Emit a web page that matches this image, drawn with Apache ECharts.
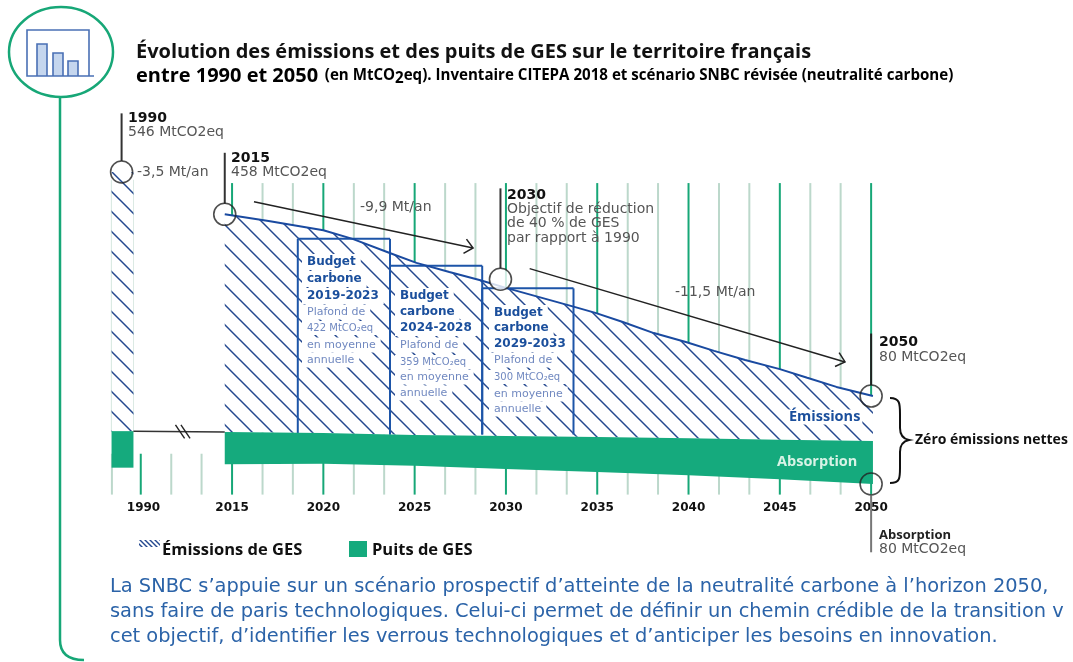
<!DOCTYPE html>
<html><head><meta charset="utf-8">
<style>html,body{margin:0;padding:0;background:#fff;overflow:hidden}#c{width:1073px;height:662px}</style>
<script src="https://cdn.jsdelivr.net/npm/echarts@6/dist/echarts.min.js"></script>
</head><body><div id="c"></div>
<script>
// Axis positions: years after the break are real; 1990 sits at a shifted spot left of the axis break.
const axisLabelYears = [2010.15, 2015, 2020, 2025, 2030, 2035, 2040, 2045, 2050];
const axisLabelTexts = ['1990', '2015', '2020', '2025', '2030', '2035', '2040', '2045', '2050'];
const majorTicks = [2015, 2020, 2025, 2030, 2035, 2040, 2045, 2050];
const minorTicks = [2016.67, 2018.33, 2021.67, 2023.33, 2026.67, 2028.33, 2031.67, 2033.33, 2036.67, 2038.33, 2041.67, 2043.33, 2046.67, 2048.33];
const leftMajorTicks = [2010];
const leftMinorTicks = [2008.42, 2011.67, 2013.33];

const emissionYears = [2014.6, 2017, 2020, 2021.6, 2023.6, 2025.1, 2026.9, 2028.6, 2030, 2033.7, 2034.9, 2036.4, 2038.1, 2039.9, 2041.4, 2043.1, 2045, 2046.5, 2048.1, 2050.1];
const emissionValues = [458, 444, 425, 407, 378, 357, 338, 321, 305, 266, 253, 234, 211, 192, 174, 155, 136, 118, 99, 80];
const sinkYears = [2014.6, 2020, 2025, 2030, 2035, 2040, 2045, 2050.1];
const sinkTop = [5, 3, -1, -3, -5, -8, -11, -13.5];
const sinkBottom = [-62, -61, -65, -72, -78, -85, -93, -103];
const stubYears = [2008.4, 2009.6];
const stubEmission = 546;
const stubSinkTop = 7;
const stubSinkBottom = -69;
const budgetStart = [2018.6, 2023.65, 2028.7];
const budgetEnd = [2023.65, 2028.7, 2033.7];
const budgetTop = [407, 351, 304];
const breakLine = [[2009.6, 7], [2014.6, 5]];
const arrowStart = [[2016.2, 484], [2031.3, 345]];
const arrowEnd = [[2028.2, 388], [2048.57, 151]];
const markers = [[2008.95, 546, false], [2014.6, 458, false], [2029.7, 323, true], [2050, 80, false], [2050, -103, false]];
const leaders = [[2008.95, 668, 569, '#333'], [2014.6, 586, 480, '#333'], [2029.7, 512, 345, '#333'], [2050, 210, 103, '#222'], [2050, -127, -245, '#777']];

const HATCH = '#24488f', BLUE = '#1d55a8', GREEN = '#15aa7d', GREEN2 = '#17a777', PALE = '#bcd8cb';
function hatch(size, lw) {
  const c = document.createElement('canvas'); c.width = c.height = size;
  const g = c.getContext('2d'); g.strokeStyle = HATCH; g.lineWidth = lw;
  [[-size, 0], [0, 0], [size, 0]].forEach(([dx]) => { g.beginPath(); g.moveTo(dx - 2, -2); g.lineTo(dx + size + 2, size + 2); g.stroke(); });
  return c;
}
const hatchFill = { image: hatch(20, 1.5), repeat: 'repeat' };

function custom(z, build) {
  return { type: 'custom', coordinateSystem: 'cartesian2d', silent: true, clip: false, z, data: [[2030, 0]],
    renderItem: (p, api) => ({ type: 'group', children: build(api) }) };
}
const zip = (xs, ys) => xs.map((x, i) => [x, ys[i]]);
const poly = (api, pts, style) => ({ type: 'polygon', shape: { points: pts.map(a => api.coord(a)) }, style });
const seg = (api, a, b, stroke, lineWidth) => { const p = api.coord(a), q = api.coord(b);
  return { type: 'line', shape: { x1: p[0], y1: p[1], x2: q[0], y2: q[1] }, style: { stroke, lineWidth } }; };

const series = [
  custom(1, api => [
    ...majorTicks.map(x => seg(api, [x, 523], [x, 0], GREEN2, 2)),
    ...minorTicks.map(x => seg(api, [x, 523], [x, 0], PALE, 2)),
    ...majorTicks.concat(leftMajorTicks).map(x => seg(api, [x, -40], [x, -125], GREEN2, 2)),
    ...minorTicks.concat(leftMinorTicks).map(x => seg(api, [x, -40], [x, -125], PALE, 2)),
    seg(api, [2008.42, 530], [2008.42, 5], PALE, 2),
    seg(api, [stubYears[1], 530], [stubYears[1], 5], PALE, 1)
  ]),
  custom(2, api => {
    const top = zip(emissionYears, emissionValues);
    const base = zip(sinkYears, sinkTop).reverse();
    const stub = [[stubYears[0], stubEmission], [stubYears[1], stubEmission], [stubYears[1], stubSinkTop], [stubYears[0], stubSinkTop]];
    return [
      poly(api, top.concat(base), { fill: '#fff' }),
      poly(api, top.concat(base), { fill: hatchFill }),
      poly(api, stub, { fill: '#fff' }),
      poly(api, stub, { fill: hatchFill })
    ];
  }),
  custom(3, api => budgetTop.flatMap((t, i) => [
    seg(api, [budgetStart[i], 0], [budgetStart[i], t], BLUE, 2),
    seg(api, [budgetStart[i], t], [budgetEnd[i], t], BLUE, 2),
    seg(api, [budgetEnd[i], t], [budgetEnd[i], 0], BLUE, 2)
  ])),
  { type: 'line', z: 4, silent: true, showSymbol: false, smooth: false, clip: false,
    data: zip(emissionYears, emissionValues), lineStyle: { color: '#1a4aa0', width: 2 } },
  custom(5, api => [
    poly(api, zip(sinkYears, sinkTop).concat(zip(sinkYears, sinkBottom).reverse()), { fill: GREEN }),
    poly(api, [[stubYears[0], stubSinkTop], [stubYears[1], stubSinkTop], [stubYears[1], stubSinkBottom], [stubYears[0], stubSinkBottom]], { fill: GREEN })
  ]),
  custom(6, api => {
    const out = [seg(api, breakLine[0], breakLine[1], '#333', 1.5)];
    [[2011.9, 2012.4], [2012.2, 2012.7]].forEach(([a, b]) => out.push(seg(api, [a, 20], [b, -8], '#222', 1.4)));
    leaders.forEach(l => out.push(seg(api, [l[0], l[1]], [l[0], l[2]], l[3], 2)));
    arrowStart.forEach((s, i) => {
      const p = api.coord(s), q = api.coord(arrowEnd[i]);
      const ang = Math.atan2(q[1] - p[1], q[0] - p[0]), L = 11, w = 0.72;
      out.push({ type: 'line', shape: { x1: p[0], y1: p[1], x2: q[0], y2: q[1] }, style: { stroke: '#222', lineWidth: 1.5 } });
      out.push({ type: 'polyline', shape: { points: [
        [q[0] - L * Math.cos(ang - w), q[1] - L * Math.sin(ang - w)], q,
        [q[0] - L * Math.cos(ang + w), q[1] - L * Math.sin(ang + w)]] }, style: { stroke: '#222', lineWidth: 1.5, fill: 'none' } });
    });
    return out;
  }),
  { type: 'scatter', z: 7, silent: true, symbol: 'circle', symbolSize: 22, clip: false,
    data: markers.map(m => ({ value: [m[0], m[1]], itemStyle: { color: m[2] ? '#fff' : 'rgba(255,255,255,0)', borderColor: '#222', borderWidth: 1.6 } })) },
  custom(8, () => [
    { type: 'path', shape: { pathData: 'M890 398 C900 398 900 404 900 414 L900 428 C900 436 904 439 909 440 C904 441 900 444 900 452 L900 468 C900 478 900 483 890 483' }, style: { fill: 'none', stroke: '#111', lineWidth: 2 } },
    { type: 'path', shape: { pathData: 'M60 97 L60 640 Q60 660 84 660' }, style: { fill: 'none', stroke: GREEN2, lineWidth: 2.5 } },
    { type: 'rect', shape: { x: 37, y: 44, width: 10, height: 32 }, style: { fill: '#c5d6ee' } },
    { type: 'rect', shape: { x: 53, y: 53, width: 10, height: 23 }, style: { fill: '#c5d6ee' } },
    { type: 'rect', shape: { x: 68, y: 61, width: 10, height: 15 }, style: { fill: '#c5d6ee' } },
    { type: 'path', shape: { pathData: 'M94 76 L27 76 L27 30 L89 30 L89 76 M37 76 L37 44 L47 44 L47 76 M53 76 L53 53 L63 53 L63 76 M68 76 L68 61 L78 61 L78 76' }, style: { fill: 'none', stroke: '#4a70b5', lineWidth: 1.6 } },
    { type: 'ellipse', shape: { cx: 61, cy: 52, rx: 52, ry: 45 }, style: { fill: 'none', stroke: GREEN2, lineWidth: 2.5 } }
  ])
];

const OS = '"Open Sans", sans-serif', DJ = '"DejaVu Sans", sans-serif';
function t(x, y, text, size, color, weight, extra, fam) {
  return { type: 'text', z: 20, x, y, style: Object.assign({ text, font: `${weight || 400} ${size}px ${fam || DJ}`, fill: color, verticalAlign: 'middle', align: 'left' }, extra || {}) };
}
const kn = { backgroundColor: '#fff', padding: [0, 2] };
const kb = { backgroundColor: '#fff', padding: [2, 5] };
const DK = '#1b4f9c', LT = '#7189c0';
const blocks = [
  [302, [262, 279, 296], ['Budget', 'carbone', '2019-2023'], [312, 328, 345, 360], ['Plafond de', '422 MtCO₂eq', 'en moyenne', 'annuelle']],
  [395, [296, 312, 328], ['Budget', 'carbone', '2024-2028'], [345, 362, 377, 393], ['Plafond de', '359 MtCO₂eq', 'en moyenne', 'annuelle']],
  [489, [313, 328, 344], ['Budget', 'carbone', '2029-2033'], [360, 377, 394, 409], ['Plafond de', '300 MtCO₂eq', 'en moyenne', 'annuelle']]
];
const gfx = [];
blocks.forEach(b => {
  [...b[4]].reverse().forEach((s, j) => { const i = b[4].length - 1 - j; gfx.push(t(b[0], b[3][i], s, i === 1 ? 10 : 11, LT, 400, kb)); });
  [...b[2]].reverse().forEach((s, j) => { const i = b[2].length - 1 - j; gfx.push(t(b[0], b[1][i], s, 12, DK, 700, kb)); });
});
gfx.push(
  t(136, 52, 'Évolution des émissions et des puits de GES sur le territoire français', 20, '#111', 700, null, OS),
  { type: 'text', z: 20, x: 136, y: 76, style: { verticalAlign: 'middle', text: '{a|entre 1990 et 2050}  {b|(en MtCO}{s|2}{b|eq). Inventaire CITEPA 2018 et scénario SNBC révisée (neutralité carbone)}',
    rich: { a: { font: `700 20px ${OS}`, color: '#111' }, b: { font: `700 15.1px ${OS}`, color: '#111' }, s: { font: `700 15.1px ${OS}`, color: '#111', padding: [6, 0, 0, 0] } } } },
  t(128, 118, '1990', 14, '#111', 700), t(128, 132, '546 MtCO2eq', 14, '#555'),
  t(137, 172, '-3,5 Mt/an', 14, '#555'),
  t(231, 158, '2015', 14, '#111', 700), t(231, 172, '458 MtCO2eq', 14, '#555'),
  t(360, 207, '-9,9 Mt/an', 14, '#555'),
  t(507, 195, '2030', 14, '#111', 700),
  t(507, 209, 'Objectif de réduction', 14, '#555'), t(507, 223, 'de 40 % de GES', 14, '#555'), t(507, 238, 'par rapport à 1990', 14, '#555'),
  t(675, 292, '-11,5 Mt/an', 14, '#555'),
  t(879, 342, '2050', 14, '#111', 700), t(879, 357, '80 MtCO2eq', 14, '#555'),
  t(879, 535, 'Absorption', 13, '#222', 700, null, OS), t(879, 549, '80 MtCO2eq', 14, '#555'),
  t(915, 440, 'Zéro émissions nettes', 14, '#111', 700, null, OS),
  t(787, 417, 'Émissions', 14.5, DK, 700, kn, OS),
  t(777, 462, 'Absorption', 14.5, '#d8f3e6', 700, null, OS),
  t(162, 550, 'Émissions de GES', 16.5, '#111', 700, null, OS),
  t(372, 550, 'Puits de GES', 16.5, '#111', 700, null, OS),
  { type: 'rect', z: 20, shape: { x: 349, y: 541, width: 18, height: 16 }, style: { fill: GREEN } },
  { type: 'rect', z: 20, shape: { x: 139, y: 540, width: 21, height: 7 }, style: { fill: { image: hatch(5, 1.4), repeat: 'repeat' } } },
  t(110, 587, 'La SNBC s’appuie sur un scénario prospectif d’atteinte de la neutralité carbone à l’horizon 2050,', 19.4, '#2b63a8'),
  t(110, 612, 'sans faire de paris technologiques. Celui-ci permet de définir un chemin crédible de la transition v', 19.4, '#2b63a8'),
  t(110, 637, 'cet objectif, d’identifier les verrous technologiques et d’anticiper les besoins en innovation.', 19.4, '#2b63a8')
);

const chart = echarts.init(document.getElementById('c'), null, { renderer: 'canvas' });
chart.setOption({
  animation: false, backgroundColor: '#fff',
  grid: { left: 111, width: 768.7, top: 107.6, height: 389.4 },
  xAxis: { type: 'value', min: 2008.37, max: 2050.47, splitLine: { show: false }, axisLine: { show: false }, axisTick: { show: false },
    axisLabel: { customValues: axisLabelYears, margin: 5, fontFamily: DJ, fontWeight: 700, fontSize: 12, color: '#111', hideOverlap: false,
      formatter: v => axisLabelTexts[axisLabelYears.indexOf(v)] } },
  yAxis: { type: 'value', min: -130, max: 680, show: false, splitLine: { show: false } },
  series, graphic: { elements: gfx }
});
</script></body></html>
